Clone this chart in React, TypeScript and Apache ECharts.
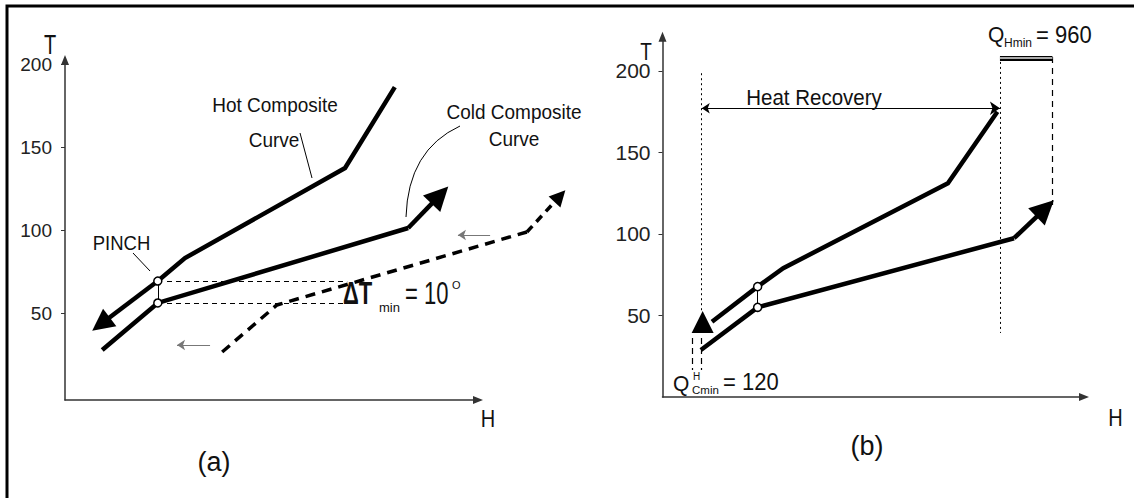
import React, { useEffect, useRef } from "react";
import * as echarts from "echarts";

// ---------- data ----------
const T_TICKS = [50, 100, 150, 200];

// panel (a)
const A_HOT = [[78.9, 186.2], [67.0, 137.5], [28.7, 83.3], [22.2, 69.5]];
const A_HOT_HEAD = [[22.2, 69.5], [8.6, 43.6]];
const A_COLD = [[8.9, 28.0], [22.2, 56.3], [82.1, 101.4]];
const A_COLD_HEAD = [[82.1, 101.4], [89.7, 121.2]];
const A_SHIFT = [[37.6, 26.8], [50.7, 55.1], [110.5, 99.0]];
const A_SHIFT_HEAD = [[110.5, 99.0], [118.4, 120.6]];
const A_PINCH = [[22.2, 69.5], [22.2, 56.3]];
const A_DT_TOP = [[24.4, 69.5], [67.5, 69.5]];
const A_DT_BOT = [[24.4, 56.3], [67.5, 56.3]];
const A_MOVE_1 = [[34.7, 31.0], [26.8, 31.0]];
const A_MOVE_2 = [[101.7, 97.2], [94.0, 97.2]];

// panel (b)
const B_HOT = [[78.5, 175.0], [66.9, 131.1], [28.3, 79.0], [22.3, 67.7], [11.6, 46.2]];
const B_HOT_HEAD = [[9.4, 46.0]];
const B_COLD = [[9.0, 28.8], [22.3, 55.0], [82.4, 97.4]];
const B_COLD_HEAD = [[82.4, 97.4], [89.7, 115.6]];
const B_PINCH = [[22.3, 67.7], [22.3, 55.0]];
const B_RECOVERY = [[9.2, 177.1], [79.1, 177.1]];
const B_DOT_LEFT = [[9.2, 198.6], [9.2, 52.8]];
const B_DOT_RIGHT = [[79.1, 208.6], [79.1, 39.3]];
const B_DASH_QH = [[91.4, 208.6], [91.4, 117.8]];
const B_QH_BAR = [[79.1, 207.8], [91.4, 207.8]];
const B_QC_1 = [[6.9, 36.2], [6.9, 16.6]];
const B_QC_2 = [[9.0, 36.2], [9.0, 16.6]];

const FONT = "'Liberation Sans', Arial, Helvetica, sans-serif";

function poly(i: number, coords: number[][], width: number, type: any = "solid") {
  return {
    type: "lines", coordinateSystem: "cartesian2d", xAxisIndex: i, yAxisIndex: i,
    polyline: true, data: [{ coords }], clip: false, silent: true, z: 3,
    lineStyle: { width, color: "#000", type, opacity: 1, cap: "butt", join: "miter" },
  };
}
function seg(i: number, coords: number[][], width: number, symbol: any, symbolSize: any, type: any = "solid", color = "#000") {
  return {
    type: "lines", coordinateSystem: "cartesian2d", xAxisIndex: i, yAxisIndex: i,
    data: [{ coords }], symbol, symbolSize, clip: false, silent: true, z: 3,
    lineStyle: { width, color, type, opacity: 1, curveness: 0 },
  };
}
function dots(i: number, data: number[][]) {
  return {
    type: "scatter", xAxisIndex: i, yAxisIndex: i, data, symbol: "circle", symbolSize: 8,
    clip: false, silent: true, z: 6,
    itemStyle: { color: "#fff", borderColor: "#000", borderWidth: 1.5, opacity: 1 },
  };
}
function txt(text: string, x: number, y: number, size: number, align = "center", extra: any = {}) {
  return {
    type: "text", x, y, scaleY: extra.scaleY || 1, z: 10, silent: true,
    style: {
      text, fontSize: size, fontFamily: FONT, fill: "#111", fontWeight: extra.weight || "normal",
      align, verticalAlign: "middle", textAlign: align, textVerticalAlign: "middle",
    },
  };
}
function yAx(i: number, min: number, max: number, size: number, margin: number) {
  return {
    type: "value", gridIndex: i, min, max,
    axisLine: { show: true, onZero: false, lineStyle: { color: "#333", width: 1.5 }, symbol: ["none", "triangle"], symbolSize: [8, 10] },
    axisTick: { show: true, customValues: T_TICKS, length: 4, lineStyle: { color: "#333", width: 1 } },
    axisLabel: { show: true, customValues: T_TICKS, fontSize: size, color: "#222", fontFamily: FONT, margin },
    splitLine: { show: false },
  };
}
function xAx(i: number, max: number) {
  return {
    type: "value", gridIndex: i, min: 0, max,
    axisLine: { show: true, onZero: false, lineStyle: { color: "#333", width: 1.5 }, symbol: ["none", "triangle"], symbolSize: [8, 10] },
    axisTick: { show: false }, axisLabel: { show: false }, splitLine: { show: false },
  };
}

export default function App() {
  const ref = useRef<HTMLDivElement>(null);
  useEffect(() => {
    document.body.style.margin = "0";
    const chart = echarts.init(ref.current!, undefined, { renderer: "svg" });
    chart.setOption({
      animation: false,
      backgroundColor: "#fff",
      grid: [
        { left: 65, top: 60, width: 413, height: 340 },
        { left: 662.5, top: 36.7, width: 421.5, height: 360.3 },
      ],
      xAxis: [xAx(0, 98.8), xAx(1, 98.8)],
      yAxis: [yAx(0, -2.1, 202.5, 19, 13), yAx(1, 0, 221.0, 21, 12)],
      series: [
        // panel (a)
        poly(0, A_HOT, 4.5),
        seg(0, A_HOT_HEAD, 4.5, ["none", "triangle"], [22, 22]),
        poly(0, A_COLD, 4.5),
        seg(0, A_COLD_HEAD, 4.5, ["none", "triangle"], [22, 24]),
        poly(0, A_SHIFT, 3.5, [10, 7]),
        seg(0, A_SHIFT_HEAD, 3.5, ["none", "triangle"], [15, 16], [8, 6]),
        seg(0, A_PINCH, 1, "none", 0),
        seg(0, A_DT_TOP, 1.2, "none", 0, [5, 4]),
        seg(0, A_DT_BOT, 1.2, "none", 0, [5, 4]),
        seg(0, A_MOVE_1, 1, ["none", "arrow"], [7, 8], "solid", "#777"),
        seg(0, A_MOVE_2, 1, ["none", "arrow"], [7, 8], "solid", "#777"),
        dots(0, A_PINCH),
        // panel (b)
        poly(1, B_HOT, 4.5),
        {
          type: "scatter", xAxisIndex: 1, yAxisIndex: 1, data: B_HOT_HEAD, symbol: "triangle",
          symbolSize: [22, 22], clip: false, silent: true, z: 5, itemStyle: { color: "#000", opacity: 1 },
        },
        poly(1, B_COLD, 4.5),
        seg(1, B_COLD_HEAD, 4.5, ["none", "triangle"], [22, 24]),
        seg(1, B_PINCH, 1, "none", 0),
        seg(1, B_RECOVERY, 1.2, ["arrow", "arrow"], [8, 10]),
        seg(1, B_DOT_LEFT, 1, "none", 0, [2, 3]),
        seg(1, B_DOT_RIGHT, 1, "none", 0, [2, 3]),
        seg(1, B_DASH_QH, 1.2, "none", 0, [6, 5]),
        seg(1, B_QH_BAR, 5, "none", 0),
        seg(1, B_QH_BAR, 2, "none", 0, "solid", "#aaa"),
        seg(1, B_QC_1, 1.2, "none", 0, [6, 4]),
        seg(1, B_QC_2, 1.2, "none", 0, [6, 4]),
        dots(1, B_PINCH),
      ],
      graphic: [
        { type: "rect", shape: { x: 7, y: 6, width: 1140, height: 500 }, style: { fill: "none", stroke: "#000", lineWidth: 3 }, silent: true },
        // panel (a) texts
        txt("T", 50, 44, 20, "center", { scaleY: 1.35 }),
        txt("H", 488, 419, 20, "center", { scaleY: 1.2 }),
        txt("Hot Composite", 275, 105, 19, "center", { scaleY: 1.1 }),
        txt("Curve", 274, 140, 19, "center", { scaleY: 1.1 }),
        txt("Cold Composite", 514, 112, 19, "center", { scaleY: 1.1 }),
        txt("Curve", 514, 139, 19, "center", { scaleY: 1.1 }),
        txt("PINCH", 121.5, 243, 18.5, "center", { scaleY: 1.1 }),
        txt("ΔT", 343, 294, 22, "left", { scaleY: 1.4, weight: "bold" }),
        txt("min", 379, 307, 13, "left"),
        txt("= 10", 405, 294, 22, "left", { scaleY: 1.4 }),
        txt("O", 452, 285, 11, "left"),
        txt("(a)", 214, 462, 27, "center"),
        { type: "line", shape: { x1: 300, y1: 133, x2: 312, y2: 178 }, style: { stroke: "#000", lineWidth: 1 }, silent: true },
        { type: "line", shape: { x1: 133, y1: 253, x2: 150, y2: 271 }, style: { stroke: "#000", lineWidth: 1 }, silent: true },
        { type: "bezierCurve", shape: { x1: 460, y1: 126, x2: 406, y2: 217, cpx1: 408, cpy1: 150 }, style: { stroke: "#000", lineWidth: 1, fill: "none" }, silent: true },
        // panel (b) texts
        txt("T", 646, 52, 19, "center", { scaleY: 1.25 }),
        txt("H", 1115.5, 417.5, 20, "center", { scaleY: 1.2 }),
        txt("Heat Recovery", 814, 97, 20.5, "center", { scaleY: 1.05 }),
        txt("Q", 988, 35, 21, "left", { scaleY: 1.05 }),
        txt("Hmin", 1004, 43, 12, "left"),
        txt("= 960", 1036, 35, 22, "left", { scaleY: 1.05 }),
        txt("Q", 673, 384, 21, "left", { scaleY: 1.05 }),
        txt("H", 693, 376, 10, "left"),
        txt("Cmin", 692, 390, 11.5, "left"),
        txt("= 120", 723, 382, 22, "left", { scaleY: 1.05 }),
        txt("(b)", 867, 446, 27, "center"),
      ],
    });
    return () => chart.dispose();
  }, []);
  return <div ref={ref} style={{ width: 1134, height: 498, background: "#fff" }} />;
}
